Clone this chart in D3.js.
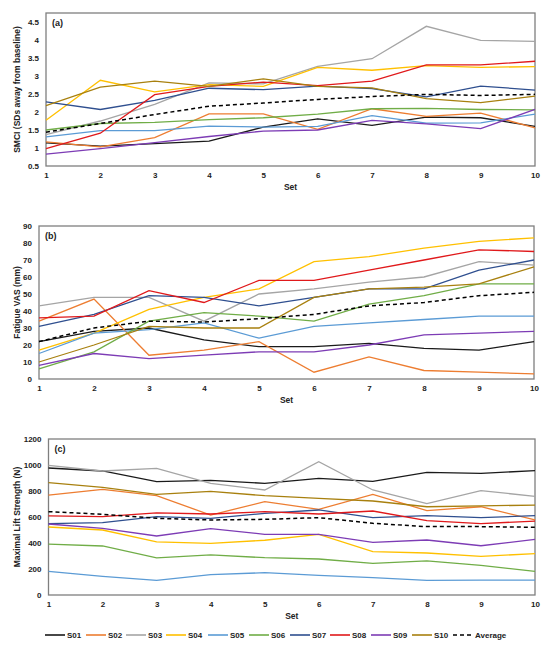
<!DOCTYPE html>
<html>
<head>
<meta charset="utf-8">
<script src="https://cdn.jsdelivr.net/npm/d3@7"></script>
<style>
  body { margin: 0; background: #fff; }
  svg text { font-family: "Liberation Sans", Arial, sans-serif; font-weight: bold; fill: #222; }
</style>
</head>
<body>
<svg id="chart"></svg>
<script>
'use strict';

const WIDTH = 550;
const HEIGHT = 652;

const sets = [1, 2, 3, 4, 5, 6, 7, 8, 9, 10];
const subjects = ["S01", "S02", "S03", "S04", "S05", "S06", "S07", "S08", "S09", "S10", "Average"];
const colors = ["#1a1a1a", "#ed7d31", "#a5a5a5", "#ffc000", "#5b9bd5", "#70ad47", "#2f4f8f", "#e0191b", "#7d3cb5", "#a8800f", "#000"];

// (a) SMCI
const smciTicks = [0.5, 1, 1.5, 2, 2.5, 3, 3.5, 4, 4.5];
const smci = [
    [1.14, 1.05, 1.12, 1.19, 1.58, 1.81, 1.63, 1.86, 1.84, 1.60],
    [1.17, 1.03, 1.29, 1.95, 1.95, 1.52, 2.09, 1.88, 1.97, 1.56],
    [1.37, 1.75, 2.21, 2.81, 2.78, 3.27, 3.48, 4.38, 3.99, 3.96],
    [1.77, 2.88, 2.56, 2.76, 2.71, 3.24, 3.16, 3.29, 3.24, 3.26],
    [1.31, 1.48, 1.48, 1.61, 1.58, 1.60, 1.90, 1.69, 1.70, 1.94],
    [1.50, 1.68, 1.71, 1.79, 1.84, 1.94, 2.09, 2.10, 2.07, 2.06],
    [2.28, 2.07, 2.32, 2.66, 2.62, 2.72, 2.65, 2.42, 2.72, 2.61],
    [0.98, 1.41, 2.48, 2.71, 2.83, 2.73, 2.86, 3.31, 3.31, 3.41],
    [0.83, 0.98, 1.15, 1.32, 1.47, 1.50, 1.77, 1.67, 1.54, 2.07],
    [2.18, 2.69, 2.86, 2.71, 2.92, 2.71, 2.67, 2.37, 2.26, 2.44],
    [1.44, 1.68, 1.93, 2.16, 2.25, 2.35, 2.43, 2.49, 2.46, 2.49]
];

// (b) Fatigue VAS
const vasTicks = [0, 10, 20, 30, 40, 50, 60, 70, 80, 90];
const vas = [
    [22, 28, 30, 23, 19, 19, 21, 18, 17, 22],
    [34, 47, 14, 17, 22, 4, 13, 5, 4, 3],
    [43, 48, 48, 34, 50, 53, 57, 60, 69, 67],
    [17, 27, 41, 48, 53, 69, 72, 77, 81, 83],
    [15, 27, 29, 33, 24, 31, 33, 35, 37, 37],
    [6, 16, 34, 39, 37, 34, 44, 49, 56, 56],
    [31, 38, 49, 48, 43, 48, 53, 53, 64, 70],
    [36, 37, 52, 45, 58, 58, 64, 70, 76, 75],
    [8, 15, 12, 14, 16, 16, 20, 26, 27, 28],
    [10, 20, 31, 30, 30, 48, 53, 54, 56, 66],
    [22, 30, 34, 33.5, 35.5, 38, 43, 45, 49, 51]
];

// (c) Maximal lift strength
const liftTicks = [0, 200, 400, 600, 800, 1000, 1200];
const lift = [
    [977, 954, 872, 882, 859, 897, 874, 944, 936, 956],
    [769, 813, 764, 615, 718, 659, 774, 649, 679, 577],
    [997, 954, 974, 859, 808, 1026, 808, 703, 803, 759],
    [523, 500, 408, 397, 421, 467, 333, 323, 297, 318],
    [182, 144, 113, 156, 172, 151, 133, 113, 115, 115],
    [392, 377, 285, 308, 287, 277, 244, 262, 228, 182],
    [549, 556, 603, 590, 628, 654, 595, 610, 595, 610],
    [608, 603, 631, 623, 641, 623, 646, 572, 549, 569],
    [546, 513, 454, 510, 467, 467, 405, 423, 379, 428],
    [864, 828, 774, 797, 764, 744, 723, 679, 685, 692],
    [641, 621, 590, 577, 582, 595, 551, 526, 526, 521]
];

const svg = d3.select("svg#chart")
              .attr("width", WIDTH)
              .attr("height", HEIGHT);

const panels = [
    { label: "(a)", title: "SMCI (SDs away from baseline)", data: smci, ticks: smciTicks,
      domain: [0.5, 4.5], left: 46, right: 535, top: 13, yTop: 22, bottom: 166, fmt: d => String(d) },
    { label: "(b)", title: "Fatigue VAS (mm)", data: vas, ticks: vasTicks,
      domain: [0, 90], left: 39, right: 534, top: 226, yTop: 226, bottom: 379, fmt: d => String(d) },
    { label: "(c)", title: "Maximal Lift Strength (N)", data: lift, ticks: liftTicks,
      domain: [0, 1200], left: 48.5, right: 535, top: 439, yTop: 439, bottom: 595, fmt: d => String(d) }
];

const drawPanel = (p) => {
    const g = svg.append("g");
    const x = d3.scaleLinear().domain([1, 10]).range([p.left, p.right]);
    const y = d3.scaleLinear().domain(p.domain).range([p.bottom, p.yTop]);

    g.append("rect")
     .attr("x", p.left)
     .attr("y", p.top)
     .attr("width", p.right - p.left)
     .attr("height", p.bottom - p.top)
     .attr("fill", "none")
     .attr("stroke", "#7f7f7f")
     .attr("stroke-width", 1.3);

    const xAxis = g.append("g")
                   .attr("transform", "translate(0," + p.bottom + ")")
                   .call(d3.axisBottom(x).tickValues(sets).tickSize(0).tickPadding(6));
    xAxis.select(".domain").remove();
    xAxis.selectAll("text").style("font-size", "8px").attr("fill", "#222");

    const yAxis = g.append("g")
                   .attr("transform", "translate(" + p.left + ",0)")
                   .call(d3.axisLeft(y).tickValues(p.ticks).tickFormat(p.fmt).tickSize(0).tickPadding(7));
    yAxis.select(".domain").remove();
    yAxis.selectAll("text").style("font-size", "8px").attr("fill", "#222");

    g.append("text")
     .attr("x", (p.left + p.right) / 2)
     .attr("y", p.bottom + 24)
     .attr("text-anchor", "middle")
     .style("font-size", "8.5px")
     .text("Set");

    g.append("text")
     .attr("transform", "translate(20," + (p.top + p.bottom) / 2 + ") rotate(-90)")
     .attr("text-anchor", "middle")
     .style("font-size", "8.5px")
     .text(p.title);

    g.append("text")
     .attr("x", p.left + 6)
     .attr("y", p.top + 13)
     .style("font-size", "9px")
     .text(p.label);

    const line = d3.line()
                   .x((d, i) => x(sets[i]))
                   .y(d => y(d));

    g.selectAll("path.series")
     .data(p.data)
     .enter()
     .append("path")
     .attr("class", "series")
     .attr("fill", "none")
     .attr("stroke", (d, i) => colors[i])
     .attr("stroke-width", (d, i) => i === 10 ? 1.5 : 1.3)
     .attr("stroke-dasharray", (d, i) => i === 10 ? "4,3" : null)
     .attr("d", line);
};

panels.forEach(drawPanel);

// legend
const legendX = [45, 86, 126, 166, 208, 249, 290, 330, 371, 412, 453];
const legend = svg.append("g").attr("transform", "translate(0,635)");
subjects.forEach((s, i) => {
    legend.append("line")
          .attr("x1", legendX[i])
          .attr("x2", legendX[i] + 20)
          .attr("y1", 0)
          .attr("y2", 0)
          .attr("stroke", colors[i])
          .attr("stroke-width", i === 10 ? 1.5 : 1.6)
          .attr("stroke-dasharray", i === 10 ? "4,3" : null);
    legend.append("text")
          .attr("x", legendX[i] + 22)
          .attr("y", 3)
          .style("font-size", "8px")
          .text(s);
});
</script>
</body>
</html>
